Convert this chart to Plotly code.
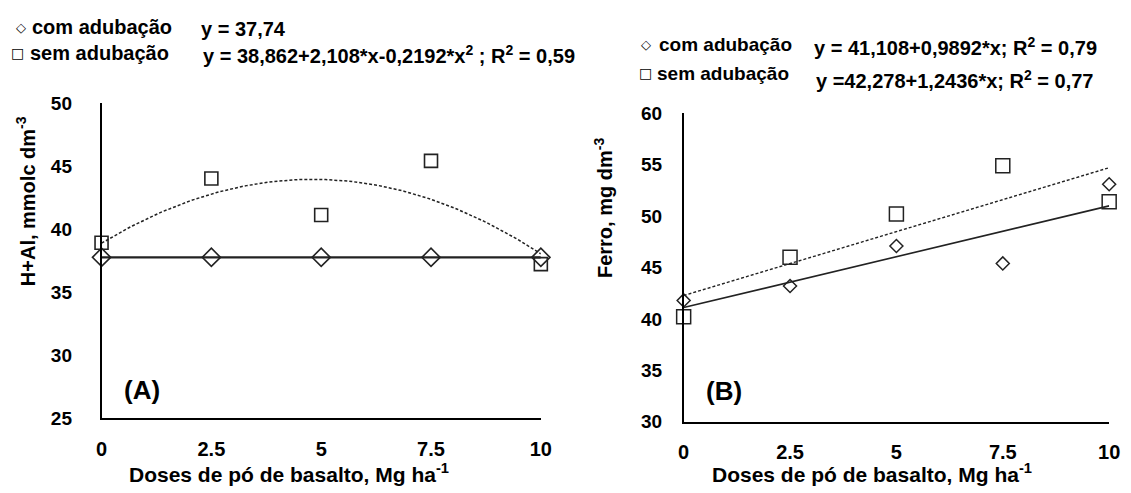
import numpy as np
import plotly.graph_objects as go

# ---- data ----
doses = [0, 2.5, 5, 7.5, 10]
x_ticks = [0, 2.5, 5, 7.5, 10]
x_tick_labels = ["0", "2.5", "5", "7.5", "10"]

# Panel A: H+Al
hal_com = [37.74, 37.74, 37.74, 37.74, 37.74]
hal_sem = [38.9, 44.0, 41.1, 45.4, 37.2]
hal_com_coef = [37.74]                   # y = a
hal_sem_coef = [38.862, 2.108, -0.2192]  # y = a + b x + c x^2
a_y_ticks = [25, 30, 35, 40, 45, 50]

# Panel B: Ferro
fe_com = [41.8, 43.2, 47.1, 45.4, 53.1]
fe_sem = [40.2, 46.0, 50.2, 54.9, 51.4]
fe_com_coef = [41.108, 0.9892]
fe_sem_coef = [42.278, 1.2436]
b_y_ticks = [30, 35, 40, 45, 50, 55, 60]

xs = np.linspace(0, 10, 101)
def poly(coef, x):
    return sum(c * x ** i for i, c in enumerate(coef))

INK = "#222222"
FONT = "Liberation Sans, Arial, sans-serif"

fig = go.Figure()

# Panel A traces
fig.add_trace(go.Scatter(x=xs, y=poly(hal_sem_coef, xs), mode="lines",
                         line=dict(color=INK, width=1.5, dash="3px,2px"),
                         xaxis="x", yaxis="y", showlegend=False, hoverinfo="skip"))
fig.add_trace(go.Scatter(x=[0, 10], y=[poly(hal_com_coef, 0), poly(hal_com_coef, 10)], mode="lines",
                         line=dict(color=INK, width=2.2),
                         xaxis="x", yaxis="y", showlegend=False, hoverinfo="skip"))
fig.add_trace(go.Scatter(x=doses, y=hal_com, mode="markers", cliponaxis=False,
                         marker=dict(symbol="diamond-open", size=14, color=INK, line=dict(width=1.6)),
                         xaxis="x", yaxis="y", showlegend=False))
fig.add_trace(go.Scatter(x=doses, y=hal_sem, mode="markers", cliponaxis=False,
                         marker=dict(symbol="square-open", size=13, color=INK, line=dict(width=1.6)),
                         xaxis="x", yaxis="y", showlegend=False))

# Panel B traces
fig.add_trace(go.Scatter(x=xs, y=poly(fe_sem_coef, xs), mode="lines",
                         line=dict(color=INK, width=1.4, dash="3px,2px"),
                         xaxis="x2", yaxis="y2", showlegend=False, hoverinfo="skip"))
fig.add_trace(go.Scatter(x=xs, y=poly(fe_com_coef, xs), mode="lines",
                         line=dict(color=INK, width=1.6),
                         xaxis="x2", yaxis="y2", showlegend=False, hoverinfo="skip"))
fig.add_trace(go.Scatter(x=doses, y=fe_com, mode="markers", cliponaxis=False,
                         marker=dict(symbol="diamond-open", size=10, color=INK, line=dict(width=1.5)),
                         xaxis="x2", yaxis="y2", showlegend=False))
fig.add_trace(go.Scatter(x=doses, y=fe_sem, mode="markers", cliponaxis=False,
                         marker=dict(symbol="square-open", size=14, color=INK, line=dict(width=1.5)),
                         xaxis="x2", yaxis="y2", showlegend=False))

W, H = 1131, 493
def dx(a, b):
    return [a / W, b / W]
def dy(top, bottom):
    return [1 - bottom / H, 1 - top / H]

xtickfont = dict(family=FONT, size=20, color="black", weight="bold")
ytickfont = dict(family=FONT, size=19, color="black", weight="bold")
common_x = dict(range=[0, 10], tickvals=x_ticks, ticktext=x_tick_labels, showgrid=False,
                zeroline=False, showline=True, linecolor="black", linewidth=1.5,
                ticks="", tickfont=xtickfont, ticklabelstandoff=12, fixedrange=True)
common_y = dict(showgrid=False, zeroline=False, showline=True, linecolor="black",
                linewidth=1.5, ticks="", tickfont=ytickfont, fixedrange=True)

fig.update_layout(
    width=W, height=H, autosize=False,
    margin=dict(l=0, r=0, t=0, b=0),
    paper_bgcolor="white", plot_bgcolor="white",
    xaxis=dict(domain=dx(97, 543), anchor="y", **common_x),
    yaxis=dict(domain=dy(97, 426), anchor="x", range=[25, 50], tickvals=a_y_ticks,
               ticklabelstandoff=24, **common_y),
    xaxis2=dict(domain=dx(688, 1120), anchor="y2", **common_x),
    yaxis2=dict(domain=dy(108, 430), anchor="x2", range=[30, 60], tickvals=b_y_ticks,
                ticklabelstandoff=16, **common_y),
)

def txt(x, y, text, size=18, xanchor="left", angle=0):
    fig.add_annotation(x=x / W, y=1 - y / H, xref="paper", yref="paper", text=text,
                       showarrow=False, xanchor=xanchor, yanchor="middle", textangle=angle,
                       font=dict(family=FONT, size=size, color="black", weight="bold"))

def sym(x, y, ch, size=14):
    fig.add_annotation(x=x / W, y=1 - y / H, xref="paper", yref="paper", text=ch,
                       showarrow=False, xanchor="center", yanchor="middle",
                       font=dict(family="DejaVu Sans", size=size, color="black"))

# Panel A legend/equations
sym(15, 18, "◇", 13)
txt(24, 18, "com adubação", 20)
txt(196, 20, "y = 37,74", 20)
sym(12, 45, "□", 14)
txt(22, 45, "sem adubação", 20)
txt(198, 47, "y = 38,862+2,108*x-0,2192*x<sup>2</sup> ; R<sup>2</sup> = 0,59", 20)

# Panel B legend/equations
sym(650, 36, "◇", 13)
txt(661, 36, "com adubação", 19)
txt(818, 38, "y = 41,108+0,9892*x; R<sup>2</sup> = 0,79", 20)
sym(649, 66, "□", 14)
txt(659, 66, "sem adubação", 19)
txt(820, 73, "y =42,278+1,2436*x; R<sup>2</sup> = 0,77", 20)

# Axis titles
txt(287, 484, "Doses de pó de basalto, Mg ha<sup>-1</sup>", 21, xanchor="center")
txt(879, 484, "Doses de pó de basalto, Mg ha<sup>-1</sup>", 21, xanchor="center")
txt(20, 200, "H+Al, mmolc dm<sup>-3</sup>", 20, xanchor="center", angle=-90)
txt(606, 207, "Ferro, mg dm<sup>-3</sup>", 20, xanchor="center", angle=-90)

# Panel labels
txt(138, 397, "(A)", 26, xanchor="center")
txt(729, 398, "(B)", 26, xanchor="center")

fig.write_html("out.html")
